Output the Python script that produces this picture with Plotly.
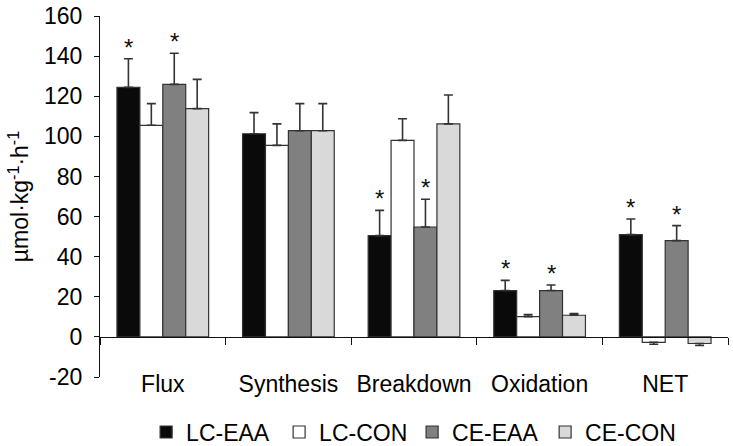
import plotly.graph_objects as go

categories = ["Flux", "Synthesis", "Breakdown", "Oxidation", "NET"]
series_names = ["LC-EAA", "LC-CON", "CE-EAA", "CE-CON"]

lc_eaa = [124.4, 101.3, 50.5, 23.1, 51.0]
lc_con = [105.5, 95.5, 98.0, 10.1, -2.7]
ce_eaa = [125.9, 102.8, 54.8, 23.1, 48.0]
ce_con = [113.8, 102.8, 106.2, 10.8, -3.3]

lc_eaa_err = [14.3, 10.5, 12.6, 5.1, 7.8]
lc_con_err = [10.8, 10.7, 10.8, 1.0, 1.0]
ce_eaa_err = [15.5, 13.5, 13.8, 2.8, 7.5]
ce_con_err = [14.6, 13.5, 14.4, 0.8, 1.0]

# significance marks (asterisks)
lc_eaa_sig = [True, False, True, True, True]
lc_con_sig = [False, False, False, False, False]
ce_eaa_sig = [True, False, True, True, True]
ce_con_sig = [False, False, False, False, False]

y_ticks = [-20, 0, 20, 40, 60, 80, 100, 120, 140, 160]
y_tick_labels = ["-20", "0", "20", "40", "60", "80", "100", "120", "140", "160"]

values = [lc_eaa, lc_con, ce_eaa, ce_con]
errors = [lc_eaa_err, lc_con_err, ce_eaa_err, ce_con_err]
sigs = [lc_eaa_sig, lc_con_sig, ce_eaa_sig, ce_con_sig]
colors = ["#0a0a0a", "#ffffff", "#808080", "#d9d9d9"]

FONT = "Liberation Sans, Arial, sans-serif"
FS = 23
BARGAP = 0.27
n = len(series_names)
bw = (1 - BARGAP) / n
xs = list(range(len(categories)))

fig = go.Figure()
annotations = []
for k, (name, vals, errs, sg, col) in enumerate(zip(series_names, values, errors, sigs, colors)):
    plus = [e if v >= 0 else 0 for v, e in zip(vals, errs)]
    minus = [0 if v >= 0 else e for v, e in zip(vals, errs)]
    fig.add_trace(go.Bar(
        name=name, x=xs, y=vals,
        marker=dict(color=col, line=dict(color="#333333", width=1.2)),
        error_y=dict(type="data", symmetric=False, array=plus, arrayminus=minus,
                     color="#333333", thickness=1.6, width=4.5),
    ))
    for i, (v, e, s) in enumerate(zip(vals, errs, sg)):
        if s:
            annotations.append(dict(
                x=i + (k - (n - 1) / 2) * bw, y=v + e, xref="x", yref="y",
                text="*", showarrow=False, yanchor="bottom", yshift=-4,
                font=dict(size=24, color="#111111", family=FONT)))

# invisible trace to carry the zero-line axis
fig.add_trace(go.Scatter(x=[None], y=[None], xaxis="x2", yaxis="y",
                         showlegend=False, hoverinfo="skip"))

fig.update_layout(
    width=733, height=446,
    margin=dict(l=100, r=5, t=16, b=69, autoexpand=False),
    paper_bgcolor="white", plot_bgcolor="white",
    barmode="group", bargap=BARGAP, bargroupgap=0,
    font=dict(family=FONT, size=FS, color="#000000"),
    showlegend=True,
    legend=dict(orientation="h", x=0.497, xanchor="center", y=-0.093, yanchor="top",
                font=dict(size=FS, family=FONT), traceorder="normal",
                itemwidth=30, tracegroupgap=0,
                entrywidth=88, entrywidthmode="pixels"),
    xaxis=dict(range=[-0.5, 4.5], tickvals=xs, ticktext=categories,
               showline=False, ticks="", showgrid=False, zeroline=False,
               anchor="free", position=0.025, automargin=False,
               tickfont=dict(size=FS, family=FONT)),
    xaxis2=dict(range=[-0.5, 4.5], overlaying="x", anchor="free", position=20 / 180,
                tickvals=[-0.5, 0.5, 1.5, 2.5, 3.5, 4.5], showticklabels=False,
                ticks="outside", ticklen=7, tickcolor="#111111", tickwidth=1.2,
                showline=True, linecolor="#111111", linewidth=1.2, automargin=False,
                showgrid=False, zeroline=False),
    yaxis=dict(range=[-20, 160], tickvals=y_ticks, ticktext=y_tick_labels,
               ticks="outside", ticklen=5,
               tickcolor="#111111", tickwidth=1.2, automargin=False,
               showline=True, linecolor="#111111", linewidth=1.2,
               showgrid=False, zeroline=False, ticklabelstandoff=7,
               tickfont=dict(size=FS, family=FONT),
               title=dict(text="µmol·kg<sup>-1</sup>·h<sup>-1</sup>",
                          font=dict(size=FS, family=FONT), standoff=8)),
    annotations=annotations,
)

fig.write_html("out.html", config={"displayModeBar": False},
               post_script="document.body.style.margin='0';")
